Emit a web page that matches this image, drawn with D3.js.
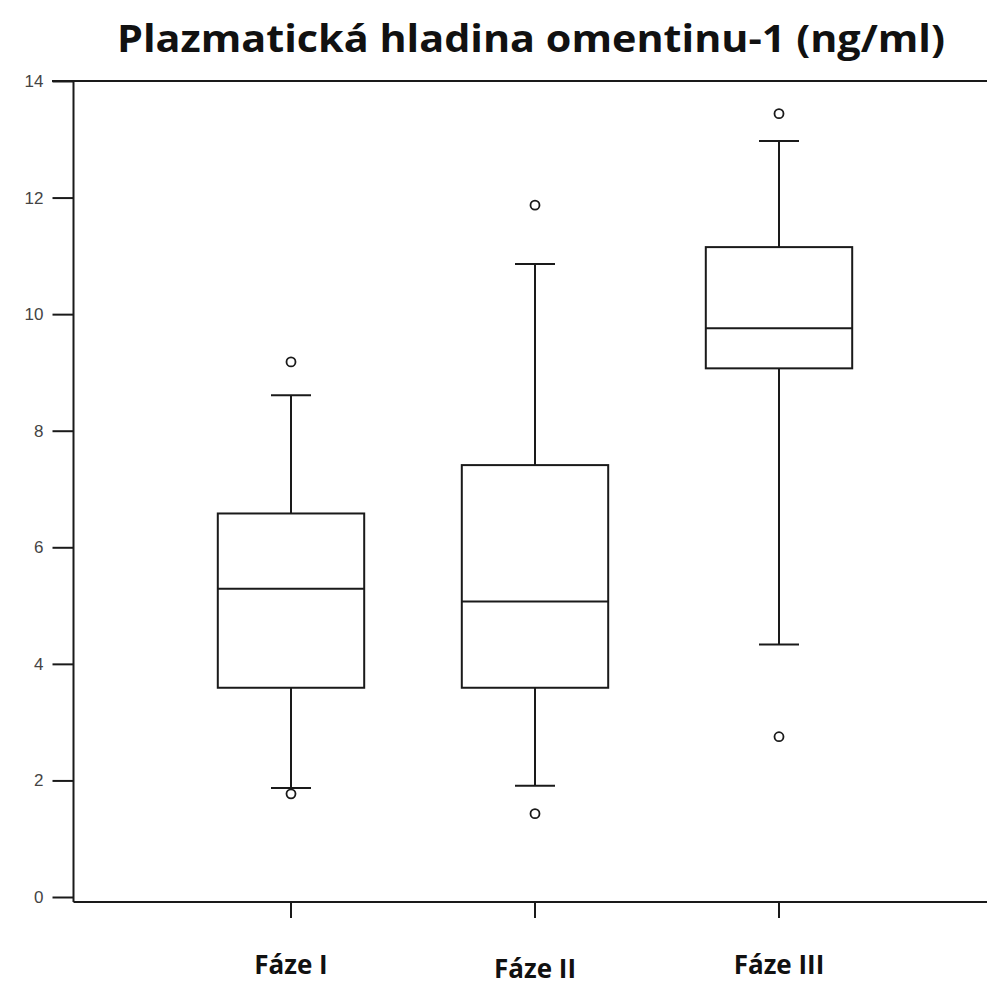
<!DOCTYPE html>
<html>
<head>
<meta charset="utf-8">
<script src="https://cdn.jsdelivr.net/npm/d3@7"></script>
<style>
  body { margin: 0; background: #fff; }
</style>
</head>
<body>
<svg id="chart" width="987" height="987"></svg>
<script>
// groups and box statistics (ng/ml)
const groups = ["Fáze I", "Fáze II", "Fáze III"];
const lowWhisker = [1.87, 1.91, 4.33];
const q1 = [3.59, 3.59, 9.07];
const median = [5.29, 5.07, 9.76];
const q3 = [6.58, 7.41, 11.15];
const highWhisker = [8.61, 10.86, 12.97];
const outliers = [[9.18, 1.77], [11.87, 1.43], [13.44, 2.75]];
const yTicks = [0, 2, 4, 6, 8, 10, 12, 14];
const labelDy = [0, 4, 0];

const svg = d3.select("#chart");
const ink = "#1a1a1a";

var x = d3.scaleBand()
  .domain(groups)
  .range([169, 901])
  .paddingInner(0.4)
  .paddingOuter(0.2);

var y = d3.scaleLinear()
  .domain([0, 14])
  .range([897, 81]);

const left = 73.5, right = 987, bottom = 902;

// title
svg.append("text")
  .attr("x", 117)
  .attr("y", 52)
  .attr("textLength", 828)
  .attr("lengthAdjust", "spacingAndGlyphs")
  .style("font-family", "'Open Sans', sans-serif")
  .style("font-weight", "bold")
  .style("font-size", "37px")
  .style("fill", "#111")
  .text("Plazmatická hladina omentinu-1 (ng/ml)");

// y axis
var yAxis = svg.append("g")
  .attr("transform", "translate(" + left + ",0)")
  .call(d3.axisLeft(y).tickValues(yTicks).tickSize(21).tickPadding(9).tickSizeOuter(0));
yAxis.select(".domain").remove();
yAxis.selectAll(".tick line").attr("stroke", ink).attr("stroke-width", 2);
yAxis.selectAll(".tick text")
  .style("font-family", "'Liberation Sans', Arial, sans-serif")
  .style("font-size", "17px")
  .style("fill", "#444");

// frame lines
svg.append("line")
  .attr("x1", 52).attr("x2", right)
  .attr("y1", y(14)).attr("y2", y(14))
  .attr("stroke", ink).attr("stroke-width", 2);
svg.append("line")
  .attr("x1", left).attr("x2", left)
  .attr("y1", y(14)).attr("y2", bottom)
  .attr("stroke", ink).attr("stroke-width", 2);
svg.append("line")
  .attr("x1", left).attr("x2", right)
  .attr("y1", bottom).attr("y2", bottom)
  .attr("stroke", ink).attr("stroke-width", 2);

// x axis ticks + labels
var xAxis = svg.append("g")
  .attr("transform", "translate(0," + bottom + ")")
  .call(d3.axisBottom(x).tickSize(16).tickPadding(50).tickSizeOuter(0));
xAxis.select(".domain").remove();
xAxis.selectAll(".tick line").attr("stroke", ink).attr("stroke-width", 2);
xAxis.selectAll(".tick text")
  .attr("dy", (d, i) => (labelDy[i] + 6) + "px")
  .style("font-family", "'Open Sans', sans-serif")
  .style("font-weight", "bold")
  .style("font-size", "26px")
  .style("fill", "#111");

// boxes
const data = groups.map((g, i) => ({
  g: g, lo: lowWhisker[i], q1: q1[i], med: median[i], q3: q3[i], hi: highWhisker[i], out: outliers[i]
}));
const bw = x.bandwidth();
const cap = 20;

var box = svg.selectAll("g.box")
  .data(data)
  .join("g")
  .attr("class", "box")
  .attr("transform", d => "translate(" + (x(d.g) + bw / 2) + ",0)");

box.append("line")
  .attr("x1", 0).attr("x2", 0)
  .attr("y1", d => y(d.hi)).attr("y2", d => y(d.q3))
  .attr("stroke", ink).attr("stroke-width", 2);
box.append("line")
  .attr("x1", 0).attr("x2", 0)
  .attr("y1", d => y(d.q1)).attr("y2", d => y(d.lo))
  .attr("stroke", ink).attr("stroke-width", 2);
box.append("line")
  .attr("x1", -cap).attr("x2", cap)
  .attr("y1", d => y(d.hi)).attr("y2", d => y(d.hi))
  .attr("stroke", ink).attr("stroke-width", 2);
box.append("line")
  .attr("x1", -cap).attr("x2", cap)
  .attr("y1", d => y(d.lo)).attr("y2", d => y(d.lo))
  .attr("stroke", ink).attr("stroke-width", 2);
box.append("rect")
  .attr("x", -bw / 2)
  .attr("width", bw)
  .attr("y", d => y(d.q3))
  .attr("height", d => y(d.q1) - y(d.q3))
  .attr("fill", "none")
  .attr("stroke", ink).attr("stroke-width", 2);
box.append("line")
  .attr("x1", -bw / 2).attr("x2", bw / 2)
  .attr("y1", d => y(d.med)).attr("y2", d => y(d.med))
  .attr("stroke", ink).attr("stroke-width", 2);
box.selectAll("circle")
  .data(d => d.out)
  .join("circle")
  .attr("cx", 0)
  .attr("cy", v => y(v))
  .attr("r", 4.5)
  .attr("fill", "#fff")
  .attr("stroke", ink).attr("stroke-width", 1.8);
</script>
</body>
</html>
